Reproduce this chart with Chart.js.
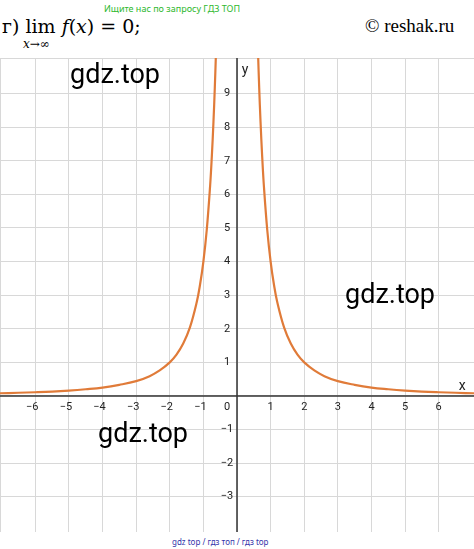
<!DOCTYPE html>
<html><head><meta charset="utf-8">
<script src="https://cdn.jsdelivr.net/npm/chart.js@4"></script>
<style>
body{margin:0;width:474px;height:549px;position:relative;background:#fff;font-family:"DejaVu Serif",serif;overflow:hidden}
#wrap{position:absolute;left:0;top:58px;width:474px;height:474px}
.t{position:absolute;white-space:nowrap}
.wm{position:absolute;font-family:Roboto,"Noto Sans",sans-serif;font-size:27px;color:#000}
</style></head><body>
<div class="t" style="left:104px;top:2px;font:9px 'Noto Sans',sans-serif;color:#2eb82e">Ищите нас по запросу ГДЗ ТОП</div>
<div class="t" style="left:2px;top:15px;font-size:19px">г) <span style="font-family:'DejaVu Serif'">lim</span> <i>f</i>(<i>x</i>) = 0;</div>
<div class="t" style="left:23px;top:37px;font-size:12px"><i>x</i>→∞</div>
<div class="t" style="left:365px;top:15px;font-size:19px;font-family:'Liberation Serif',serif">© reshak.ru</div>
<div id="wrap"><canvas id="c"></canvas></div>
<div class="wm" style="left:70px;top:58px">gdz.top</div>
<div class="wm" style="left:345px;top:278px">gdz.top</div>
<div class="wm" style="left:98px;top:417px">gdz.top</div>
<div class="t" style="left:172px;top:536px;font:8px 'Noto Sans',sans-serif;color:#3333aa">gdz top / гдз топ / гдз top</div>
<script>
const xRight=[0.63,0.66,0.7,0.75,0.8,0.9,1,1.1,1.2,1.4,1.6,1.8,2,2.3,2.6,3,3.5,4,4.5,5,5.5,6,6.5,7.1];
const yRight=[10.08,9.18,8.16,7.11,6.25,4.94,4,3.31,2.78,2.04,1.56,1.23,1,0.76,0.59,0.44,0.33,0.25,0.2,0.16,0.13,0.11,0.095,0.079];
const xLeft=xRight.map(v=>-v), yLeft=yRight.slice();
const xTicks=[-6,-5,-4,-3,-2,-1,1,2,3,4,5,6];
const yTicks=[-3,-2,-1,1,2,3,4,5,6,7,8,9];
const col='#e07b39';
const mk=(xs,ys)=>xs.map((x,i)=>({x,y:ys[i]}));
const labels={id:'lab',afterDraw(ch){const c=ch.ctx,xs=ch.scales.x,ys=ch.scales.y;c.save();c.fillStyle='#222';c.font='11px Roboto, sans-serif';c.textAlign='center';c.textBaseline='middle';
xTicks.forEach(v=>c.fillText(v<0?'−'+(-v):v,xs.getPixelForValue(v)-(v<0?3:0),ys.getPixelForValue(0)+11));
yTicks.forEach(v=>c.fillText(v<0?'−'+(-v):v,xs.getPixelForValue(0)-10,ys.getPixelForValue(v)));
c.fillText('0',xs.getPixelForValue(0)-10,ys.getPixelForValue(0)+11);
c.font='14px Roboto, sans-serif';c.fillText('x',xs.getPixelForValue(6.7),ys.getPixelForValue(0)-9);c.fillText('y',xs.getPixelForValue(0)+8,ys.getPixelForValue(9.7));
c.strokeStyle='#333';c.lineWidth=1.5;c.beginPath();c.moveTo(xs.left,ys.getPixelForValue(0));c.lineTo(xs.right,ys.getPixelForValue(0));c.moveTo(xs.getPixelForValue(0),ys.top);c.lineTo(xs.getPixelForValue(0),ys.bottom);c.stroke();c.restore();}};
new Chart(document.getElementById('c'),{type:'scatter',
data:{datasets:[{data:mk(xRight,yRight)},{data:mk(xLeft,yLeft)}].map(d=>Object.assign(d,{showLine:true,borderColor:col,borderWidth:2.2,pointRadius:0,tension:0.4,clip:true}))},
options:{responsive:true,maintainAspectRatio:false,animation:false,layout:{padding:0},
plugins:{legend:{display:false},tooltip:{enabled:false}},
scales:{x:{type:'linear',min:-7.05,max:7.05,ticks:{display:false,stepSize:1},border:{display:false},grid:{color:'#d8d8d8',drawTicks:false}},
y:{type:'linear',min:-4.05,max:10.06,ticks:{display:false,stepSize:1},border:{display:false},grid:{color:'#d8d8d8',drawTicks:false}}}},
plugins:[labels]});
</script></body></html>
